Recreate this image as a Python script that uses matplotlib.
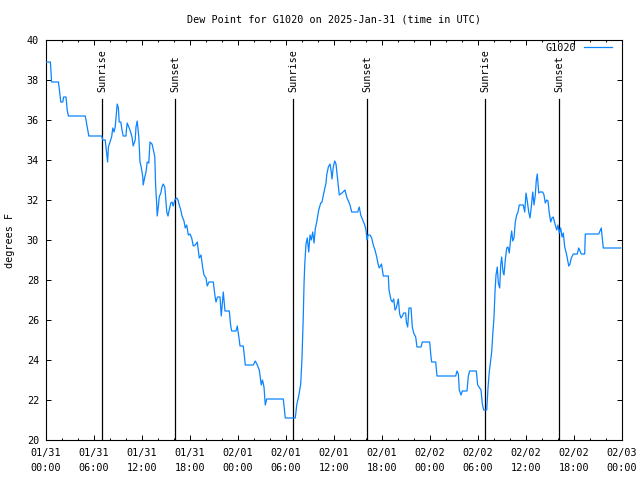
import matplotlib
matplotlib.use("Agg")
import matplotlib.pyplot as plt
from matplotlib.ticker import MultipleLocator

# ---- data (hours since 2025-01-31 00:00 UTC, dew point in F) ----
hours = [
    0.0, 0.55, 0.7, 1.55, 1.65, 1.85, 2.1, 2.2, 2.5, 2.65, 2.8, 4.9, 5.0, 5.15, 5.35, 6.95,
    7.1, 7.4, 7.6, 7.7, 7.8, 8.0, 8.2, 8.35, 8.5, 8.65, 8.75, 8.9, 9.05, 9.15, 9.35, 9.5,
    9.65, 10.0, 10.05, 10.15, 10.35, 10.5, 10.75, 10.9, 11.15, 11.25, 11.4, 11.6, 11.75,
    11.9, 12.1, 12.15, 12.35, 12.5, 12.65, 12.85, 13.0, 13.25, 13.4, 13.6, 13.7, 13.85,
    13.9, 14.05, 14.15, 14.35, 14.5, 14.65, 14.85, 14.95, 15.1, 15.25, 15.4, 15.6, 15.75,
    15.9, 16.1, 16.35, 16.5, 16.65, 16.85, 17.0, 17.25, 17.4,
    17.59, 17.79, 18.0, 18.21, 18.41, 18.66, 18.91, 19.16, 19.375, 19.59, 19.75, 20.0,
    20.16, 20.375, 20.91, 21.125, 21.25, 21.44, 21.75, 21.91, 22.16, 22.375, 22.91, 23.09,
    23.21, 23.75, 23.91, 24.16, 24.25, 24.66, 24.91, 25.91, 26.16, 26.41, 26.66, 26.91,
    27.06, 27.25, 27.41, 27.59, 29.66, 29.91, 31.16, 31.34, 31.59, 31.84, 32.0, 32.16,
    32.25, 32.34, 32.5, 32.66, 32.84, 33.0, 33.16, 33.34, 33.5, 33.66, 33.84, 34.09,
    34.34, 34.5, 34.75, 35.0, 35.09, 35.29, 35.5, 35.66, 35.75, 35.91, 36.09, 36.25,
    36.41, 36.66, 37.0, 37.375, 37.59, 37.84, 38.0, 38.21, 38.96, 39.16, 39.34, 39.59,
    39.84, 40.0, 40.125, 40.25, 40.5, 40.71, 40.91, 41.125, 41.34, 41.54, 41.66, 41.94,
    42.16, 42.79, 42.875, 43.125, 43.29, 43.46, 43.625, 43.79, 43.96, 44.04, 44.21,
    44.375, 44.54, 44.71, 44.96, 45.04, 45.21, 45.375, 45.625, 45.79, 45.96, 46.21,
    46.375, 46.875, 47.04, 47.96, 48.125, 48.21, 48.71, 48.875, 51.21, 51.375, 51.54,
    51.66, 51.875, 52.04, 52.625, 52.79, 52.96, 53.79, 53.96, 54.375, 54.54, 54.71,
    55.09, 55.25, 55.41, 55.59, 55.71, 55.84, 56.0, 56.125, 56.25, 56.41, 56.54, 56.71,
    56.84, 56.96, 57.125, 57.25, 57.41, 57.59, 57.75, 57.91, 58.09, 58.21, 58.34, 58.5,
    58.66, 58.84, 59.0, 59.16, 59.66, 59.84, 60.0, 60.16, 60.34, 60.5, 60.66, 60.84,
    61.0, 61.16, 61.29, 61.41, 61.59, 61.75, 62.09, 62.25, 62.41, 62.59, 62.75, 62.91,
    63.09, 63.25, 63.41, 63.59, 63.84, 64.0, 64.16, 64.34, 64.5, 64.66, 64.84, 65.0,
    65.16, 65.34, 65.5, 65.66, 65.91, 66.41, 66.59, 66.75, 66.91, 67.34, 67.41, 69.09,
    69.25, 69.41, 69.59, 69.66, 71.84,
]
dewpoint = [
    38.9, 38.9, 37.9, 37.9, 37.6, 36.9, 36.9, 37.15, 37.15, 36.5, 36.2, 36.2, 36.0, 35.65, 35.2, 35.2,
    35.0, 35.0, 34.25, 33.9, 34.65, 34.9, 35.15, 35.6, 35.4, 35.65, 36.1, 36.8, 36.6, 35.9, 35.9, 35.5,
    35.2, 35.2, 35.5, 35.85, 35.65, 35.5, 35.15, 34.7, 35.0, 35.65, 35.95, 35.15, 33.9,
    33.65, 33.15, 32.75, 33.15, 33.4, 33.9, 33.85, 34.9, 34.8, 34.55, 34.15, 32.75, 31.7,
    31.2, 31.7, 32.15, 32.35, 32.65, 32.8, 32.65, 32.15, 31.4, 31.2, 31.5, 31.85, 31.9,
    31.7, 32.0, 32.1, 32.0, 31.75, 31.5, 31.2, 30.95, 30.6,
    30.75, 30.25, 30.3, 30.1, 29.7, 29.75, 29.9, 29.1, 29.25, 28.6, 28.25, 28.1,
    27.7, 27.9, 27.9, 27.2, 26.9, 27.15, 27.15, 26.2, 27.4, 26.45, 26.45, 25.7,
    25.45, 25.45, 25.7, 25.0, 24.7, 24.7, 23.75, 23.75, 23.95, 23.75, 23.5, 22.75,
    23.0, 22.65, 21.75, 22.05, 22.05, 21.1, 21.1, 21.75, 22.2, 22.8, 24.1, 26.2,
    27.75, 28.75, 29.8, 30.1, 29.4, 30.25, 30.0, 30.4, 29.85, 30.55, 30.9, 31.5,
    31.85, 31.9, 32.4, 32.85, 33.25, 33.65, 33.8, 33.4, 33.05, 33.65, 33.95, 33.8,
    33.2, 32.25, 32.35, 32.5, 32.15, 31.9, 31.75, 31.4, 31.4, 31.65, 31.25, 31.0,
    30.75, 30.5, 30.0, 30.25, 30.25, 30.1, 29.75, 29.5, 29.15, 28.75, 28.6, 28.8,
    28.2, 28.2, 27.5, 27.0, 26.9, 27.05, 26.5, 26.6, 26.9, 27.05, 26.3,
    26.1, 26.2, 26.35, 26.35, 25.9, 25.65, 26.6, 26.6, 25.65, 25.35, 25.15,
    24.65, 24.65, 24.9, 24.9, 24.15, 23.9, 23.9, 23.2, 23.2, 23.45, 23.3,
    22.5, 22.25, 22.45, 22.45, 23.2, 23.45, 23.45, 22.75, 22.5, 21.8, 21.5,
    21.5, 22.6, 23.4, 24.0, 24.4, 25.25, 26.15, 27.4, 28.25, 28.65, 27.85, 27.6,
    28.75, 29.15, 28.4, 28.25, 29.0, 29.6, 29.65, 29.35, 30.1, 30.45, 29.95, 30.1,
    30.9, 31.25, 31.4, 31.75, 31.75, 31.4, 32.35, 31.95, 31.4, 31.1, 31.65, 32.4,
    31.75, 32.25, 33.0, 33.3, 32.35, 32.4, 32.4, 32.25, 31.85, 32.0, 31.95, 31.35,
    30.9, 31.1, 31.15, 30.85, 30.5, 30.75, 30.35, 30.6, 30.15, 30.35, 29.65, 29.4,
    29.1, 28.7, 28.8, 29.1, 29.3, 29.3, 29.6, 29.45, 29.3, 29.3, 30.3, 30.3,
    30.45, 30.6, 29.9, 29.6, 29.6,
]
sunrise_hours = [7.03, 30.92, 54.92]
sunset_hours = [16.17, 40.17, 64.17]
tick_hours = list(range(0, 73, 6))
tick_labels = [
    "01/31\n00:00", "01/31\n06:00", "01/31\n12:00", "01/31\n18:00",
    "02/01\n00:00", "02/01\n06:00", "02/01\n12:00", "02/01\n18:00",
    "02/02\n00:00", "02/02\n06:00", "02/02\n12:00", "02/02\n18:00",
    "02/03\n00:00",
]
title = "Dew Point for G1020 on 2025-Jan-31 (time in UTC)"
series_name = "G1020"
ylabel = "degrees F"

FONT = "DejaVu Sans Mono"
FS = 7.3
plt.rcParams["font.family"] = [FONT]
plt.rcParams["font.size"] = FS

fig = plt.figure(figsize=(6.4, 4.8), dpi=100)
ax = fig.add_axes([46 / 640, 40 / 480, 576 / 640, 400 / 480])

ax.plot(hours, dewpoint, color="#0a84ff", lw=0.9, label=series_name, zorder=3)

for h in sunrise_hours:
    ax.plot([h, h], [20, 37.05], color="black", lw=0.9, zorder=2)
    ax.text(h, 37.4, "Sunrise", rotation=90, ha="center", va="bottom", fontsize=FS)
for h in sunset_hours:
    ax.plot([h, h], [20, 37.05], color="black", lw=0.9, zorder=2)
    ax.text(h, 37.4, "Sunset", rotation=90, ha="center", va="bottom", fontsize=FS)

ax.set_xlim(0, 72)
ax.set_ylim(20, 40)
ax.set_xticks(tick_hours)
ax.set_xticklabels(tick_labels)
for lab in ax.get_xticklabels():
    lab.set_linespacing(1.6)
ax.xaxis.set_minor_locator(MultipleLocator(2))
ax.set_yticks(range(20, 41, 2))
ax.tick_params(which="major", direction="in", top=True, right=True,
               length=3.4, width=0.7, labelsize=FS, pad=6)
ax.tick_params(which="minor", direction="in", top=True, right=True,
               length=1.7, width=0.7)
ax.tick_params(axis="y", pad=5)
for s in ax.spines.values():
    s.set_linewidth(0.8)

ax.set_ylabel(ylabel, fontsize=FS)
ax.yaxis.set_label_coords(-31 / 576, 0.5)
ax.text(0.5, 1 + 20 / 400, title, transform=ax.transAxes,
        ha="center", va="center", fontsize=FS)

ax.legend(loc="upper right", frameon=False, markerfirst=False, fontsize=FS,
          handlelength=2.8, handletextpad=0.7, borderpad=0, borderaxespad=0,
          bbox_to_anchor=(1 - 10 / 576, 1 - 3 / 400))

fig.savefig("out.png", dpi=100)
